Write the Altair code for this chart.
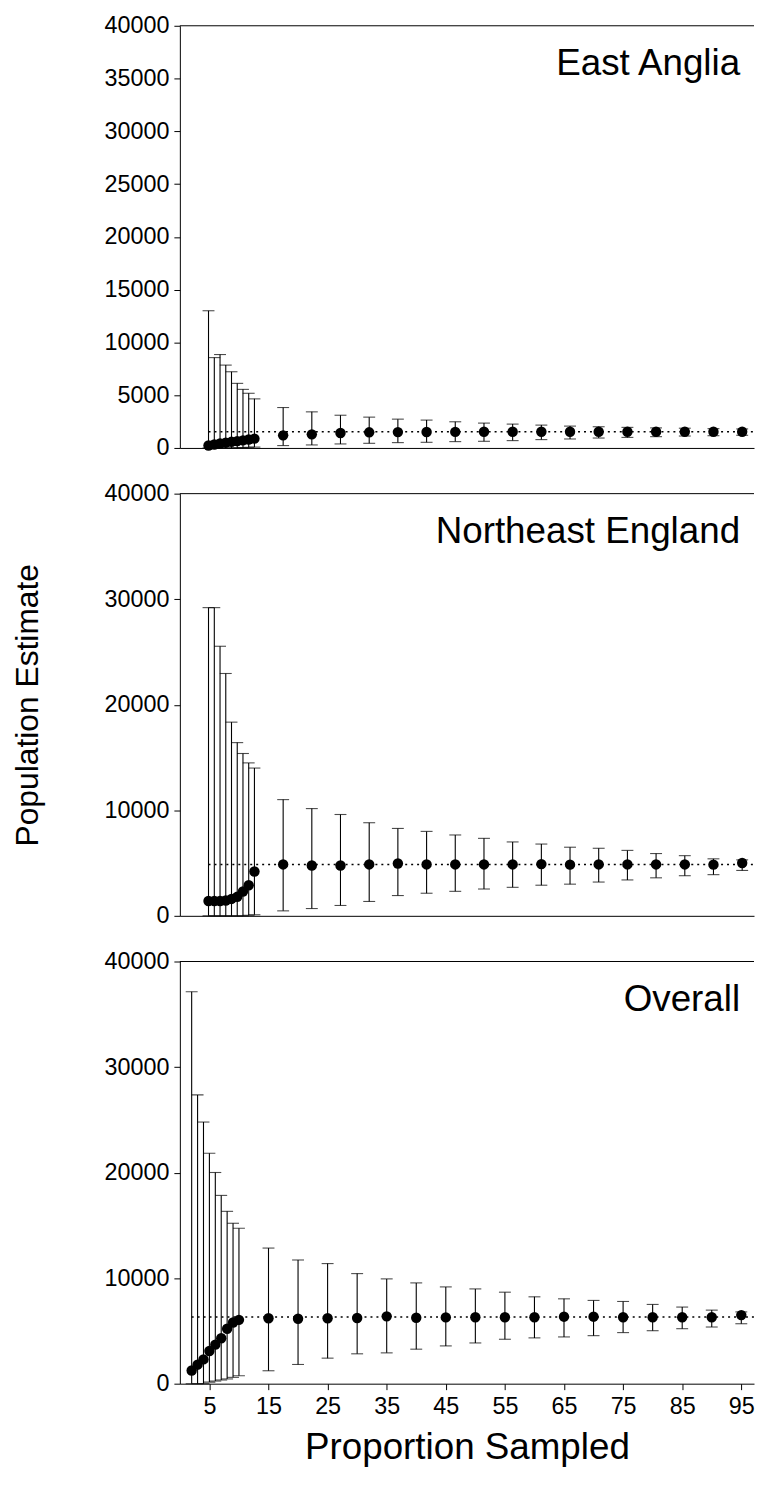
import altair as alt
import pandas as pd

FONT = "Liberation Sans"
W, H = 578, 425
X_MAX = 97.15
Y_MAX = 40000

panel_names = ["East Anglia", "Northeast England", "Overall"]
x_ticks = [5, 15, 25, 35, 45, 55, 65, 75, 85, 95]
y_ticks_top = [0, 5000, 10000, 15000, 20000, 25000, 30000, 35000, 40000]
y_ticks_other = [0, 10000, 20000, 30000, 40000]

region_x_small = [4.85, 5.83, 6.80, 7.77, 8.74, 9.71, 10.68, 11.65, 12.62]
region_x_big = [17.48, 22.33, 27.18, 32.04, 36.89, 41.75, 46.60, 51.46, 56.31,
                61.17, 66.02, 70.87, 75.73, 80.58, 85.44, 90.29, 95.15]
overall_x_small = [2, 3, 4, 5, 6, 7, 8, 9, 10]
overall_x_big = [15, 20, 25, 30, 35, 40, 45, 50, 55, 60, 65, 70, 75, 80, 85, 90, 95]

ea_small_mean = [230, 330, 420, 500, 580, 650, 720, 800, 880]
ea_small_hi = [13000, 8560, 8850, 7850, 7220, 6120, 5550, 5180, 4650]
ea_small_lo = [0, 0, 0, 0, 0, 20, 40, 60, 80]
ea_big_mean = [1195, 1290, 1420, 1480, 1500, 1510, 1520, 1530, 1530, 1530, 1530, 1530, 1530, 1530, 1530, 1530, 1530]
ea_big_hi = [3830, 3420, 3100, 2920, 2730, 2640, 2480, 2355, 2260, 2165, 2070, 2010, 1950, 1900, 1870, 1830, 1800]
ea_big_lo = [225, 285, 380, 440, 505, 535, 600, 630, 695, 790, 850, 940, 1000, 1070, 1130, 1160, 1200]
ea_ref = 1540

ne_small_mean = [1400, 1400, 1400, 1450, 1600, 1800, 2300, 2900, 4200]
ne_small_hi = [29200, 29200, 25540, 22960, 18350, 16410, 15380, 14490, 14000]
ne_small_lo = [0, 0, 0, 0, 0, 0, 0, 50, 100]
ne_big_mean = [4870, 4770, 4770, 4870, 4960, 4870, 4870, 4870, 4870, 4900, 4850, 4870, 4870, 4870, 4870, 4850, 5000]
ne_big_hi = [11010, 10160, 9600, 8820, 8280, 8000, 7660, 7340, 7000, 6800, 6500, 6400, 6200, 5900, 5700, 5400, 5300]
ne_big_lo = [470, 690, 980, 1360, 1920, 2140, 2320, 2540, 2700, 2900, 3000, 3200, 3400, 3600, 3800, 3900, 4300]
ne_ref = 4870

ov_small_mean = [1250, 1800, 2300, 3100, 3700, 4300, 5200, 5800, 6050]
ov_small_hi = [37140, 27360, 24790, 21840, 20010, 17840, 16330, 15200, 14730]
ov_small_lo = [0, 0, 0, 150, 250, 350, 450, 600, 750]
ov_big_mean = [6200, 6150, 6200, 6220, 6380, 6250, 6280, 6290, 6290, 6290, 6350, 6350, 6300, 6300, 6300, 6300, 6500]
ov_big_hi = [12850, 11720, 11380, 10430, 9930, 9550, 9170, 8980, 8670, 8230, 8040, 7890, 7790, 7510, 7260, 6970, 6800]
ov_big_lo = [1225, 1820, 2420, 2830, 2920, 3270, 3580, 3860, 4210, 4340, 4430, 4550, 4840, 5020, 5210, 5370, 5680]
ov_ref = 6320


def panel(xs, mean, lo, hi, ref, name, yvals, bottom, ytitle_opacity):
    df = pd.DataFrame({"x": xs, "mean": mean, "lo": lo, "hi": hi})
    xscale = alt.Scale(domain=[0, X_MAX], nice=False, zero=False)
    yscale = alt.Scale(domain=[0, Y_MAX], nice=False)
    if bottom:
        xaxis = alt.Axis(values=x_ticks, ticks=True, tickSize=6, labelPadding=5,
                         titlePadding=12, grid=False)
        xtitle = "Proportion Sampled"
    else:
        xaxis = alt.Axis(labels=False, ticks=False, grid=False)
        xtitle = None
    yaxis = alt.Axis(values=yvals, format="d", tickSize=6, labelPadding=5,
                     titlePadding=60, grid=False, titleOpacity=ytitle_opacity)

    def X(f):
        return alt.X(f, type="quantitative", scale=xscale, axis=xaxis, title=xtitle)

    def Y(f):
        return alt.Y(f, type="quantitative", scale=yscale, axis=yaxis,
                     title="Population Estimate")

    base = alt.Chart(df)
    refdf = pd.DataFrame({"x": [xs[0]], "y": [ref]})
    labdf = pd.DataFrame({"name": [name]})

    refline = alt.Chart(refdf).mark_rule(color="black", strokeDash=[2, 4], strokeWidth=1.5).encode(
        x=X("x"), x2=alt.value(W), y=Y("y"))
    bars = base.mark_rule(color="black", strokeWidth=1.1).encode(x=X("x"), y=Y("lo"), y2="hi")
    cap_hi = base.mark_tick(color="black", orient="horizontal", size=12, thickness=1.1).encode(
        x=X("x"), y=Y("hi"))
    cap_lo = base.mark_tick(color="black", orient="horizontal", size=12, thickness=1.1).encode(
        x=X("x"), y=Y("lo"))
    pts = base.mark_circle(color="black", size=110, opacity=1).encode(x=X("x"), y=Y("mean"))
    topline = alt.Chart(labdf).mark_rule(color="black", strokeWidth=1).encode(
        x=alt.value(0), x2=alt.value(W), y=alt.value(0))
    text = alt.Chart(labdf).mark_text(align="right", baseline="alphabetic", font=FONT,
                                      fontSize=37, color="black").encode(
        x=alt.value(564), y=alt.value(50), text="name:N")
    return alt.layer(refline, bars, cap_hi, cap_lo, pts, topline, text).properties(width=W, height=H)


top = panel(region_x_small + region_x_big, ea_small_mean + ea_big_mean,
            ea_small_lo + ea_big_lo, ea_small_hi + ea_big_hi, ea_ref,
            panel_names[0], y_ticks_top, False, 0)
mid = panel(region_x_small + region_x_big, ne_small_mean + ne_big_mean,
            ne_small_lo + ne_big_lo, ne_small_hi + ne_big_hi, ne_ref,
            panel_names[1], y_ticks_other, False, 1)
bot = panel(overall_x_small + overall_x_big, ov_small_mean + ov_big_mean,
            ov_small_lo + ov_big_lo, ov_small_hi + ov_big_hi, ov_ref,
            panel_names[2], y_ticks_other, True, 0)

chart = alt.vconcat(top, mid, bot, spacing=46, bounds="flush").properties(
    padding={"left": 3, "top": 1, "right": 0, "bottom": 0}
).resolve_scale(x="independent", y="independent").configure_view(stroke=None).configure_axis(
    domainColor="black", domainWidth=1, tickColor="black", tickWidth=1,
    labelColor="black", titleColor="black", labelFont=FONT, titleFont=FONT,
    labelFontSize=23.5, titleFontWeight="normal", grid=False
).configure_axisX(titleFontSize=37).configure_axisY(titleFontSize=32)

chart.save("out.html", embed_options={"renderer": "svg", "actions": False})
